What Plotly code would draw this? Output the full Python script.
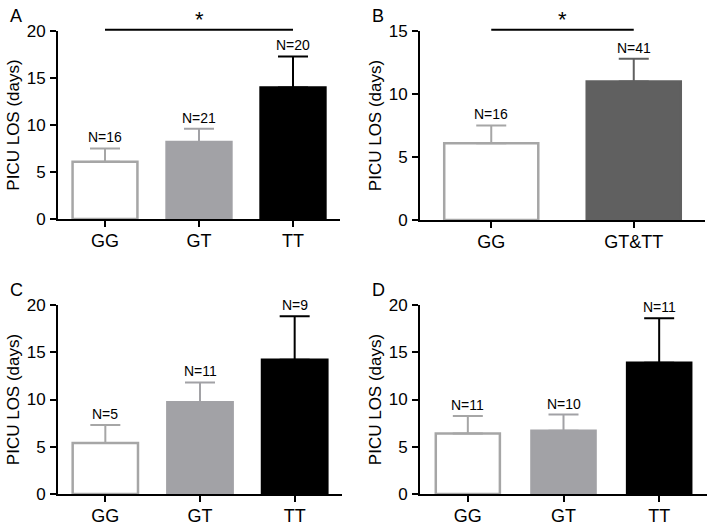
import plotly.graph_objects as go

# ---- data ----
cats_A = ["GG", "GT", "TT"]
mean_A = [6.1, 8.2, 14.0]
err_A = [1.4, 1.4, 3.3]
n_A = ["N=16", "N=21", "N=20"]

cats_B = ["GG", "GT&TT"]
mean_B = [6.1, 11.0]
err_B = [1.4, 1.8]
n_B = ["N=16", "N=41"]

cats_C = ["GG", "GT", "TT"]
mean_C = [5.4, 9.7, 14.2]
err_C = [1.9, 2.1, 4.6]
n_C = ["N=5", "N=11", "N=9"]

cats_D = ["GG", "GT", "TT"]
mean_D = [6.4, 6.7, 13.9]
err_D = [1.85, 1.7, 4.7]
n_D = ["N=11", "N=10", "N=11"]

yticks_20 = [0, 5, 10, 15, 20]
yticks_15 = [0, 5, 10, 15]

# ---- styles ----
W, H = 714, 525
FONT = "Liberation Sans, Arial, sans-serif"
WHITE, LGRAY, DGRAY, BLACK = "#ffffff", "#a2a2a6", "#606060", "#000000"
OUTL = "#a6a6a6"

fills3 = [WHITE, LGRAY, BLACK]
lines3 = [OUTL, LGRAY, BLACK]
errc3 = [OUTL, LGRAY, BLACK]
fills2 = [WHITE, DGRAY]
lines2 = [OUTL, DGRAY]
errc2 = [OUTL, DGRAY]

# panel pixel boxes: (x0, x1, ytop, ybottom)
panels = {
    "A": dict(box=(58, 340, 31, 219), cats=cats_A, mean=mean_A, err=err_A, n=n_A,
              fills=fills3, lines=lines3, errc=errc3, yt=yticks_20, width=0.69, sig=(0, 2)),
    "B": dict(box=(420, 705, 31, 220), cats=cats_B, mean=mean_B, err=err_B, n=n_B,
              fills=fills2, lines=lines2, errc=errc2, yt=yticks_15, width=0.66, sig=(0, 1)),
    "C": dict(box=(58, 342, 305, 494), cats=cats_C, mean=mean_C, err=err_C, n=n_C,
              fills=fills3, lines=lines3, errc=errc3, yt=yticks_20, width=0.69, sig=None),
    "D": dict(box=(420, 707, 305, 494), cats=cats_D, mean=mean_D, err=err_D, n=n_D,
              fills=fills3, lines=lines3, errc=errc3, yt=yticks_20, width=0.67, sig=None),
}

fig = go.Figure()
shapes, annots = [], []

for i, (letter, p) in enumerate(panels.items()):
    k = "" if i == 0 else str(i + 1)
    xa, ya = "x" + k, "y" + k
    x0, x1, yt, yb = p["box"]
    xdom = [x0 / W, x1 / W]
    ydom = [1 - yb / H, 1 - yt / H]
    ncat = len(p["cats"])
    xs = list(range(ncat))
    for j in xs:
        fig.add_trace(go.Bar(
            x=[j], y=[p["mean"][j]], width=p["width"],
            marker=dict(color=p["fills"][j], line=dict(color=p["lines"][j], width=2.5)),
            error_y=dict(type="data", symmetric=False, array=[p["err"][j]], arrayminus=[0],
                         color=p["errc"][j], thickness=2, width=15),
            xaxis=xa, yaxis=ya, showlegend=False, hoverinfo="skip",
        ))
        annots.append(dict(x=j, y=p["mean"][j] + p["err"][j], xref=xa, yref=ya,
                           text=p["n"][j], showarrow=False, yanchor="bottom", yshift=1,
                           font=dict(family=FONT, size=14, color="#000")))
    ymax = p["yt"][-1]
    fig.update_layout(**{
        ("xaxis" + k): dict(domain=xdom, anchor=ya, range=[-0.5, ncat - 0.5], automargin=False,
                            tickvals=xs, ticktext=p["cats"], showline=True, linecolor="#000",
                            linewidth=2, ticks="outside", ticklen=6, tickwidth=2, tickcolor="#000",
                            showgrid=False, zeroline=False, ticklabelstandoff=-2,
                            tickfont=dict(family=FONT, size=18, color="#000")),
        ("yaxis" + k): dict(domain=ydom, anchor=xa, range=[0, ymax], tickvals=p["yt"],
                            automargin=False,
                            showline=True, linecolor="#000", linewidth=2, ticks="outside",
                            ticklen=6, tickwidth=2, tickcolor="#000", showgrid=False,
                            zeroline=False, ticklabelstandoff=1,
                            tickfont=dict(family=FONT, size=17, color="#000"),
                            title=dict(text="PICU LOS (days)", standoff=3,
                                       font=dict(family=FONT, size=17, color="#000"))),
    })
    annots.append(dict(x=(x0 - 50) / W, y=1 - (yt - 27) / H, xref="paper", yref="paper",
                       text=letter, showarrow=False, xanchor="left", yanchor="top",
                       font=dict(family=FONT, size=18, color="#000")))
    if p["sig"]:
        a, b = p["sig"]
        shapes.append(dict(type="line", xref=xa, yref=ya + " domain", x0=a, x1=b,
                           y0=1.006, y1=1.006, line=dict(color="#000", width=2)))
        annots.append(dict(x=(a + b) / 2, y=0.982, xref=xa, yref=ya + " domain", text="*",
                           showarrow=False, yanchor="bottom",
                           font=dict(family=FONT, size=22, color="#000")))

fig.update_layout(width=W, height=H, margin=dict(l=0, r=0, t=0, b=0),
                  paper_bgcolor="#fff", plot_bgcolor="#fff", barmode="overlay",
                  shapes=shapes, annotations=annots, font=dict(family=FONT))
fig.write_html("out.html", config={"displayModeBar": False},
               post_script="document.body.style.margin='0';")
